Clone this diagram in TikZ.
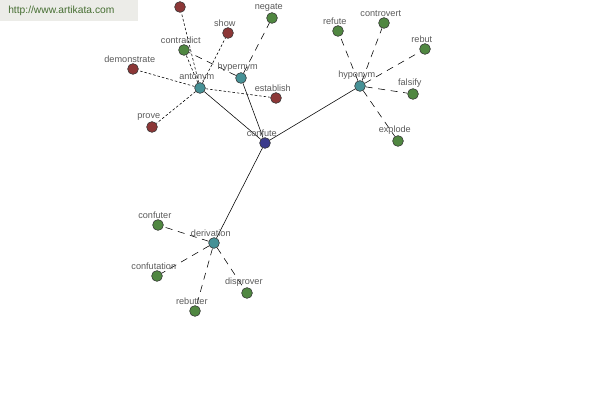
\documentclass[tikz,border=0pt]{standalone}
\usepackage{fontspec}
\setmainfont{Liberation Sans}
\usepackage{tikz}
\usetikzlibrary{backgrounds}
\definecolor{wordR}{RGB}{140,55,55}
\definecolor{wordG}{RGB}{80,135,65}
\definecolor{wordT}{RGB}{70,145,150}
\definecolor{wordB}{RGB}{60,60,140}
\definecolor{siteG}{RGB}{70,110,50}
\definecolor{siteBg}{RGB}{236,236,232}
\definecolor{lblGray}{RGB}{90,90,90}

\begin{document}
\begin{tikzpicture}[x=0.025cm, y=-0.025cm,
  word/.style={circle, draw=black!80, line width=0.4pt, minimum size=0.27cm, inner sep=0pt,
               label={[text=lblGray, font=\fontsize{6.5}{7}\selectfont, inner sep=0.4pt, xshift=-0.08cm]above:#1}},
  rword/.style={word=#1, fill=wordR},
  gword/.style={word=#1, fill=wordG},
  hub/.style={word=#1, fill=wordT},
  rel/.style={line width=0.4pt},
  ant/.style={line width=0.4pt, dash pattern=on 1.8pt off 1.4pt},
  lnk/.style={line width=0.4pt, dash pattern=on 5pt off 4pt}]
  \useasboundingbox (0,0) rectangle (600,400);
  \node[fill=siteBg, text=siteG, font=\fontsize{7.3}{8}\selectfont, anchor=north west,
        minimum width=3.45cm, minimum height=0.52cm, inner sep=0pt, inner xsep=0.2cm,
        text width=3.05cm] (site) at (0,0)
      {http://www.artikata.com};

  \node[word=confute, fill=wordB] (confute) at (265,143) {};
  \node[hub=antonym]    (antonym)    at (200,88) {};
  \node[hub=hypernym]   (hypernym)   at (241,78) {};
  \node[hub=hyponym]    (hyponym)    at (360,86) {};
  \node[hub=derivation] (derivation) at (214,243) {};

  \node[rword={}]          (top)         at (180,7) {};
  \node[rword=show]        (show)        at (228,33) {};
  \node[gword=contradict]  (contradict)  at (184,50) {};
  \node[rword=demonstrate] (demonstrate) at (133,69) {};
  \node[rword=establish]   (establish)   at (276,98) {};
  \node[rword=prove]       (prove)       at (152,127) {};
  \node[gword=negate]      (negate)      at (272,18) {};

  \node[gword=refute]     (refute)     at (338,31) {};
  \node[gword=controvert] (controvert) at (384,23) {};
  \node[gword=rebut]      (rebut)      at (425,49) {};
  \node[gword=falsify]    (falsify)    at (413,94) {};
  \node[gword=explode]    (explode)    at (398,141) {};

  \node[gword=confuter]    (confuter)    at (158,225) {};
  \node[gword=confutation] (confutation) at (157,276) {};
  \node[gword=rebutter]    (rebutter)    at (195,311) {};
  \node[gword=disprover]   (disprover)   at (247,293) {};

  \begin{scope}[on background layer]
    \foreach \h in {antonym, hypernym, hyponym, derivation}
      \draw[rel] (confute) -- (\h);
    \foreach \w in {top, show, contradict, demonstrate, establish, prove}
      \draw[ant] (antonym) -- (\w);
    \foreach \w in {negate, contradict}
      \draw[lnk] (hypernym) -- (\w);
    \foreach \w in {refute, controvert, rebut, falsify, explode}
      \draw[lnk] (hyponym) -- (\w);
    \foreach \w in {confuter, confutation, rebutter, disprover}
      \draw[lnk] (derivation) -- (\w);
  \end{scope}
\end{tikzpicture}
\end{document}
